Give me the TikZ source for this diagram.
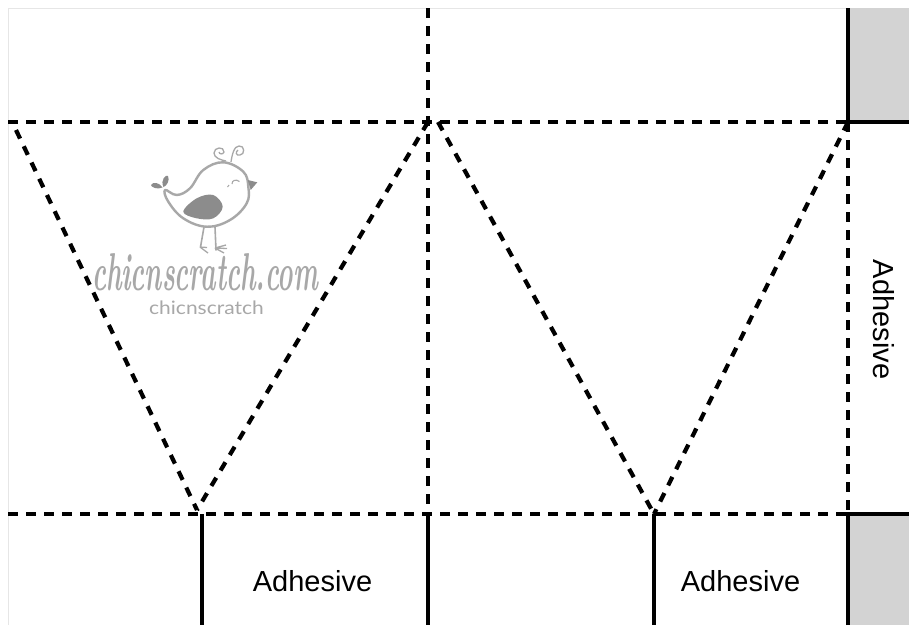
\documentclass[tikz,border=0pt]{standalone}
\usepackage{fontspec}
\usepackage{graphicx}
\newfontfamily\adhfont{Liberation Sans}
\newfontfamily\latofont{Lato}
\definecolor{wm}{HTML}{A8A8A8}
\definecolor{wmdark}{HTML}{8C8C8C}
\definecolor{tabgray}{HTML}{D3D3D3}
\definecolor{edgegray}{HTML}{E6E6E6}
\tikzset{
  foldline/.style={line width=4.2pt,black,dash pattern=on 9.5pt off 8.5pt},
  cutline/.style={line width=4pt,black},
  pagelimit/.style={line width=1pt,edgegray},
  adh/.style={font=\adhfont\fontsize{29}{32}\selectfont,inner sep=0pt,text=black},
  birdline/.style={line width=2.4pt,wm,line join=round,line cap=round},
  birdfill/.style={wmdark,draw=none}
}
\begin{document}
\begin{tikzpicture}[x=1pt,y=-1pt]
\useasboundingbox (0,0) rectangle (909,625);
\fill[white] (0,0) rectangle (909,625);
% named points
\coordinate (TL) at (8,122);
\coordinate (TM) at (428,122);
\coordinate (TR) at (848,122);
\coordinate (TE) at (909,122);
\coordinate (BL) at (8,514);
\coordinate (BA) at (202,514);
\coordinate (BM) at (428,514);
\coordinate (BB) at (654,514);
\coordinate (BR) at (848,514);
\coordinate (BE) at (909,514);
\coordinate (TopM) at (428,8);
\coordinate (TopR) at (848,8);
\coordinate (EndA) at (202,625);
\coordinate (EndM) at (428,625);
\coordinate (EndB) at (654,625);
\coordinate (EndR) at (848,625);
\coordinate (V1s) at (16,130);
\coordinate (V1b) at (197,510);
\coordinate (V2s) at (438,122);
% gray tabs
\fill[tabgray] (TopR) rectangle (TE);
\fill[tabgray] (BR) rectangle (909,625);
% page limits
\draw[pagelimit] (8,625) -- (8,8) -- (TopR);
% folds
\draw[foldline] (TL) -- (TR);
\draw[foldline] (BL) -- (BR);
\draw[foldline] (TopM) -- (BM);
\draw[foldline] (TR) -- (BR);
\draw[foldline] (V1s) -- (V1b);
\draw[foldline] (TM) -- (V1b);
\draw[foldline] (V2s) -- (BB);
\draw[foldline] (TR) -- (BB);
% cuts
\draw[cutline] (TopR) -- (TR);
\draw[cutline] (846,122) -- (TE);
\draw[cutline] (EndR) -- (BR);
\draw[cutline] (846,514) -- (BE);
\draw[cutline] (BA) -- (EndA);
\draw[cutline] (BM) -- (EndM);
\draw[cutline] (BB) -- (EndB);
% labels
\node[adh] (a1) at (312.5,581) {Adhesive};
\node[adh] (a2) at (740.5,581) {Adhesive};
\node[adh,rotate=-90] (a3) at (884,319.5) {Adhesive};
% watermark: bird
\draw[birdline] plot[smooth cycle,tension=.65] coordinates {(165,190) (176.7,195) (190,188.3) (203.3,170) (223.3,162.3) (243.3,171.7) (248.3,186.7) (246.7,203.3) (230,220) (206.7,226.7) (183.3,218.3) (168.3,201.7)};
\fill[birdfill] plot[smooth cycle,tension=.6] coordinates {(183.3,211.7) (196.7,198.3) (213.3,195) (222.7,206.7) (213.3,218.3) (196.7,218.3)};
\fill[wmdark] (247.7,180) -- (257.3,182.3) -- (250.7,190) -- cycle;
\fill[wmdark] (163.5,187) .. controls (160,180) and (166,174) .. (168,176) .. controls (170,180) and (167,186) .. (163.5,187) -- cycle;
\fill[wmdark] (162.5,187.5) .. controls (157,190) and (151,187) .. (151,185) .. controls (153,181) and (160,183) .. (162.5,187.5) -- cycle;
\draw[wm,line width=1.3pt] (226,161) .. controls (221,160) and (214,158) .. (214,153) .. controls (214,147) and (224,146) .. (224,152) .. controls (223,155) and (219,154) .. (219,152);
\draw[wm,line width=1.3pt] (231,162) .. controls (232,155) and (234,146) .. (239,146) .. controls (245,145) and (245,155) .. (240,155) .. controls (236,156) and (235,152) .. (238,150);
\draw[wm,line width=1.1pt] (232,184) .. controls (232,180) and (236,179) .. (239.5,181.5);
\draw[wm,line width=1pt] (229,185) -- (227.5,187);
\draw[birdline,line width=1.6pt] (204,227) -- (200.5,247);
\draw[birdline,line width=1.6pt] (215,227) -- (216,250);
\draw[wm,line width=1.3pt] (200,247) -- (207,247.5) (200,247) -- (208,253);
\draw[wm,line width=1.3pt] (215,248) -- (226,245) (215,248) -- (227,248.5) (215,248) -- (224,253);
% watermark: text
\node[inner sep=0pt,anchor=base,text=wm] (w1) at (205,290) {\resizebox{226pt}{37pt}{\bfseries\itshape chicnscratch.com}};
\node[inner sep=0pt,anchor=base,text=wm] (w2) at (206.5,314) {\scalebox{1}[0.88]{\latofont\fontsize{21}{22}\selectfont chicnscratch}};
\end{tikzpicture}
\end{document}
